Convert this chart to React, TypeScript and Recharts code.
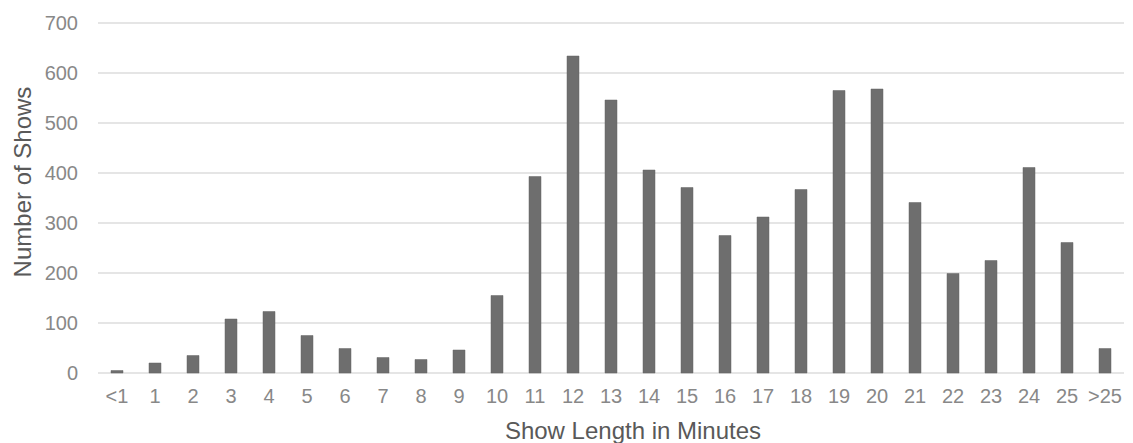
import React from "react";
import { BarChart, Bar, XAxis, YAxis, CartesianGrid } from "recharts";

const categories = ["<1","1","2","3","4","5","6","7","8","9","10","11","12","13","14","15","16","17","18","19","20","21","22","23","24","25",">25"];
const showCounts = [5,20,35,108,123,75,49,31,27,46,155,393,634,546,406,371,275,312,367,565,568,341,199,225,411,261,49];
const yTicks = [0,100,200,300,400,500,600,700];

const data = categories.map((c, i) => ({ name: c, shows: showCounts[i] }));

const FONT = "'Liberation Sans', Arial, sans-serif";

export default function App() {
  return (
    <div style={{ position: "absolute", left: 0, top: 0, width: 1133, height: 443, background: "#fff" }}>
      <BarChart width={1133} height={443} data={data} margin={{ top: 23, right: 9, bottom: 0, left: 0 }} barCategoryGap={0}>
        <CartesianGrid vertical={false} stroke="#dcdcdc" strokeWidth={1.5} />
        <XAxis
          dataKey="name"
          axisLine={false}
          tickLine={false}
          tickSize={0}
          tickMargin={16}
          height={70}
          interval={0}
          tick={{ fill: "#888888", fontSize: 20, fontFamily: FONT }}
        />
        <YAxis
          domain={[0, 700]}
          ticks={yTicks}
          axisLine={false}
          tickLine={false}
          tickSize={0}
          tickMargin={20}
          width={98}
          tick={{ fill: "#888888", fontSize: 20, fontFamily: FONT }}
        />
        <Bar dataKey="shows" fill="#6e6e6e" stroke="#666666" strokeWidth={0.5} barSize={12} isAnimationActive={false} />
        <text x={22} y={182} transform="rotate(-90 22 182)" textAnchor="middle" dominantBaseline="central" fill="#595959" fontSize={24} fontFamily={FONT}>Number of Shows</text>
        <text x={633} y={439} textAnchor="middle" fill="#595959" fontSize={24} fontFamily={FONT}>Show Length in Minutes</text>
      </BarChart>
    </div>
  );
}
